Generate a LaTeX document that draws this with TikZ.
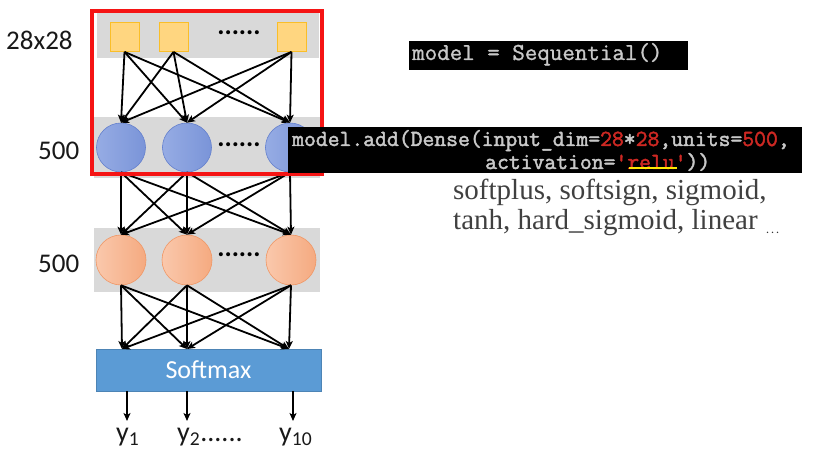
\documentclass[tikz,border=0pt]{standalone}
\usepackage{fontspec}
\setmainfont{Carlito}
\newfontfamily\codefont{Latin Modern Mono}[FakeBold=1.2]
\newfontfamily\codefontb{Latin Modern Mono}[FakeBold=2]
\newfontfamily\seriffont{Liberation Serif}
\usetikzlibrary{arrows.meta}
\definecolor{bandgray}{RGB}{217,217,217}
\definecolor{sqfill}{RGB}{255,214,128}
\definecolor{sqborder}{RGB}{250,190,40}
\definecolor{blueL}{RGB}{150,172,228}
\definecolor{blueR}{RGB}{122,148,216}
\definecolor{blueB}{RGB}{100,128,205}
\definecolor{orL}{RGB}{250,200,172}
\definecolor{orR}{RGB}{245,170,128}
\definecolor{orB}{RGB}{240,150,100}
\definecolor{smfill}{RGB}{91,155,213}
\definecolor{codegray}{RGB}{200,200,200}
\definecolor{codered}{RGB}{205,40,35}
\definecolor{focusred}{RGB}{245,20,20}
\definecolor{txtgray}{RGB}{64,64,64}
\begin{document}
\begin{tikzpicture}[x=1pt,y=-1pt,
  band/.style={rectangle, fill=bandgray, draw=none, inner sep=0},
  sq/.style={rectangle, minimum size=29pt, inner sep=0, draw=sqborder, fill=sqfill, line width=0.8pt},
  bc/.style={circle, minimum size=49pt, inner sep=0, draw=blueB, left color=blueL, right color=blueR, line width=0.6pt},
  oc/.style={circle, minimum size=50pt, inner sep=0, draw=orB, left color=orL, right color=orR, line width=0.6pt},
  arr/.style={-{Stealth[length=8pt,width=7pt,inset=2pt]}, line width=1.8pt, black},
  dotsnode/.style={font=\fontsize{27}{27}\selectfont\bfseries, inner sep=0},
  lbl/.style={font=\fontsize{27}{27}\selectfont, anchor=base west, inner sep=0, text=black!90},
  ylbl/.style={font=\fontsize{28}{28}\selectfont, anchor=base west, inner sep=0, text=black!90},
  codebox/.style={rectangle, fill=black, draw=none, inner sep=0},
  codetxt/.style={anchor=base west, inner sep=0, text=codegray},
  sertxt/.style={font=\seriffont\fontsize{29}{29}\selectfont, anchor=base west, inner sep=0, text=txtgray}
]
\useasboundingbox (0,0) rectangle (831,457);

% bands
\node[band, minimum width=222pt, minimum height=45pt] (b1) at (207.5,35.5) {};
\node[band, minimum width=226pt, minimum height=61pt] (b2) at (207,147.5) {};
\node[band, minimum width=226pt, minimum height=64pt] (b3) at (207,260) {};

% input squares
\node[sq] (s1) at (124.5,37) {};
\node[sq] (s2) at (173.5,37) {};
\node[sq] (s3) at (291.5,37) {};
\node[dotsnode] (d1) at (239,33) {......};

% hidden layer 1
\node[bc] (h1) at (121,147.5) {};
\node[bc] (h2) at (187,147.5) {};
\node[bc] (h3) at (290,147.5) {};
\node[dotsnode] (d2) at (239,145) {......};

% hidden layer 2
\node[oc] (g1) at (121,260) {};
\node[oc] (g2) at (187,260) {};
\node[oc] (g3) at (291,260) {};
\node[dotsnode] (d3) at (239,255) {......};

% softmax
\node[rectangle, fill=smfill, draw=smfill!85!black, line width=0.5pt, minimum width=225pt, minimum height=42pt, inner sep=0,
      text=white, font=\fontsize{26}{26}\selectfont] (sm) at (208.5,370) {Softmax};
\coordinate (i1) at (122,349);
\coordinate (i2) at (187,349);
\coordinate (i3) at (289,349);
\coordinate (o1) at (127,391);
\coordinate (o2) at (187,391);
\coordinate (o3) at (293,391);
\coordinate (e1) at (127,421);
\coordinate (e2) at (187,421);
\coordinate (e3) at (293,421);

% connections
\foreach \a in {s1,s2,s3}{\foreach \b in {h1,h2,h3}{\draw[arr] (\a.south) -- (\b.north);}}
\foreach \a in {h1,h2,h3}{\foreach \b in {g1,g2,g3}{\draw[arr] (\a.south) -- (\b.north);}}
\foreach \a in {g1,g2,g3}{\foreach \b in {i1,i2,i3}{\draw[arr] (\a.south) -- (\b);}}
\draw[arr] (o1) -- (e1);
\draw[arr] (o2) -- (e2);
\draw[arr] (o3) -- (e3);

% outputs
\node[ylbl] (y1) at (116,441) {y\textsubscript{1}};
\node[ylbl] (y2) at (177,441) {y\textsubscript{2}......};
\node[ylbl] (y3) at (279,441) {y\textsubscript{10}};

% layer labels
\node[lbl] (l1) at (6,50) {28x28};
\node[lbl] (l2) at (38,160) {500};
\node[lbl] (l3) at (38,273) {500};

% focus box
\node[rectangle, draw=focusred, line width=4pt, minimum width=230pt, minimum height=163pt, inner sep=0] (focus) at (207.3,92.5) {};

% code boxes
\node[codebox, minimum width=279pt, minimum height=29pt] (cb1) at (548.5,55.5) {};
\node[codetxt, font=\codefont\fontsize{24.3}{24}\selectfont] (seq) at (412,60) {model = Sequential()};

\node[codebox, minimum width=514pt, minimum height=46pt] (cb2) at (545,150) {};
\node[codetxt, font=\codefontb\fontsize{23}{23}\selectfont] (add1) at (292,146)
  {model.add(Dense(input\_dim=\textcolor{codered}{28}*\textcolor{codered}{28},units=\textcolor{codered}{500},};
\node[codetxt, font=\codefontb\fontsize{23}{23}\selectfont] (add2) at (485,169)
  {activation=\textcolor{codered}{\textquotesingle relu\textquotesingle}))};
\draw[yellow!90!orange, line width=2.5pt] (629,168) -- (677,168);

% activation list
\node[sertxt] (act1) at (453,200) {softplus, softsign, sigmoid,};
\node[sertxt] (act2) at (453,230) {tanh, hard\_sigmoid, linear};
\node[anchor=base west, inner sep=0, font=\fontsize{12}{12}\selectfont, text=black!80] (more) at (766,234) {.\,.\,.};
\end{tikzpicture}
\end{document}
